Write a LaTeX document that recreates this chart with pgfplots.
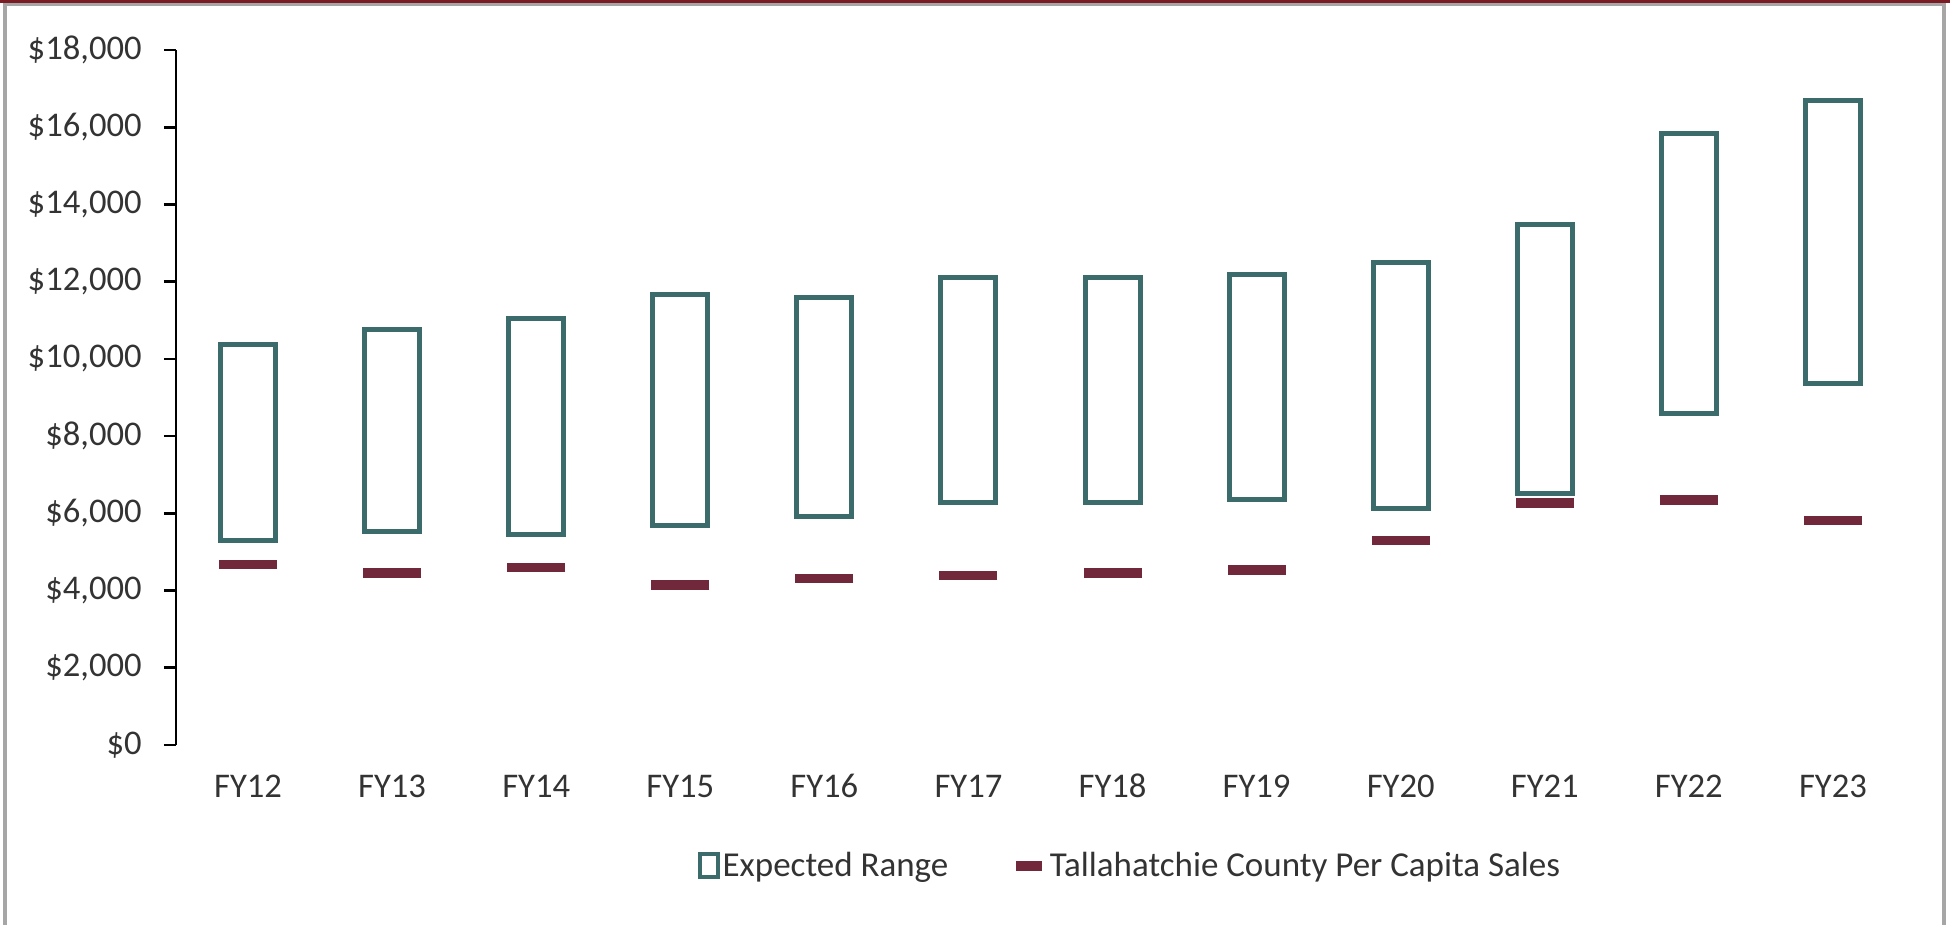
\documentclass[border=0pt]{standalone}
\usepackage{fontspec}
\setmainfont{Carlito}
\usepackage{pgfplots}
\usepackage{pgfplotstable}
\pgfplotsset{compat=1.18}
\definecolor{boxc}{HTML}{3B6B6B}
\definecolor{dashc}{HTML}{70283A}
\definecolor{topred}{HTML}{7B1C24}
\definecolor{bordergrey}{HTML}{A6A6A6}
\definecolor{txt}{HTML}{333333}

\pgfplotstableread{
x low high sales
0  5290 10380 4680
1  5530 10770 4460
2  5440 11050 4600
3  5680 11680 4150
4  5930 11590 4310
5  6280 12110 4385
6  6280 12110 4460
7  6350 12190 4530
8  6125 12500 5290
9  6520 13480 6270
10 8590 15830 6350
11 9350 16700 5815
}\datatable

\pgfplotsset{common/.style={
  scale only axis, width=864.5pt, height=347.5pt,
  xmin=-0.5, xmax=11.5, ymin=0, ymax=18000,
  at={(88pt,90pt)}, anchor=south west}}

\begin{document}
\begin{tikzpicture}[x=0.5pt,y=0.5pt]
\path[use as bounding box] (0,0) rectangle (1950,925);
\fill[topred] (0,922) rectangle (1950,925);
\fill[bordergrey] (3,918.5) rectangle (1946,922);
\fill[bordergrey] (3,0) rectangle (7,922);
\fill[bordergrey] (1942,0) rectangle (1946,922);

\begin{axis}[common,
  ybar stacked, bar width=27.5pt,
  axis lines*=left,
  x axis line style={draw=none},
  y axis line style={line width=1.3pt, black},
  ytick={0,2000,...,18000},
  scaled y ticks=false,
  xtick={0,...,11},
  xticklabels={FY12,FY13,FY14,FY15,FY16,FY17,FY18,FY19,FY20,FY21,FY22,FY23},
  xtick style={draw=none},
  ytick style={line width=1.3pt, black},
  tick align=outside, major tick length=6pt,
  yticklabel={\$\pgfmathprintnumber{\tick}},
  ticklabel style={font=\fontsize{17.3}{20}\selectfont, text=txt},
  yticklabel style={anchor=east, inner sep=0pt, xshift=-11pt},
  xticklabel style={anchor=base, inner sep=0pt, yshift=-20.5pt},
  /pgf/number format/fixed, /pgf/number format/precision=0,
  /pgf/number format/1000 sep={,},
  /pgf/number format/assume math mode=true,
]
\addplot[draw=none, fill=none] table[x=x, y=low]{\datatable};
\addplot[draw=boxc, line width=2.5pt, fill=white] table[x=x, y expr=\thisrow{high}-\thisrow{low}]{\datatable};
\end{axis}

\begin{axis}[common, hide axis, clip=false,
  legend columns=2,
  legend cell align=left,
  legend style={at={(0.552,-0.174)}, anchor=center, draw=none, fill=none,
    font=\fontsize{17.5}{20}\selectfont, text=txt, inner sep=0pt,
    nodes={inner sep=1.5pt},
    /tikz/every even column/.append style={column sep=30pt}},
]
\addlegendimage{legend image code/.code={\draw[boxc, line width=2pt, fill=white] (1pt,-5.5pt) rectangle (10pt,6pt);}}
\addlegendentry{Expected Range}
\addplot[only marks, mark=-, mark size=14.5pt,
  mark options={line width=4.75pt, draw=dashc, line cap=butt},
  legend image code/.code={\draw[dashc, line width=4.75pt] (0pt,0pt) -- (13pt,0pt);}]
  table[x=x, y=sales]{\datatable};
\addlegendentry{Tallahatchie County Per Capita Sales}
\end{axis}
\end{tikzpicture}
\end{document}
